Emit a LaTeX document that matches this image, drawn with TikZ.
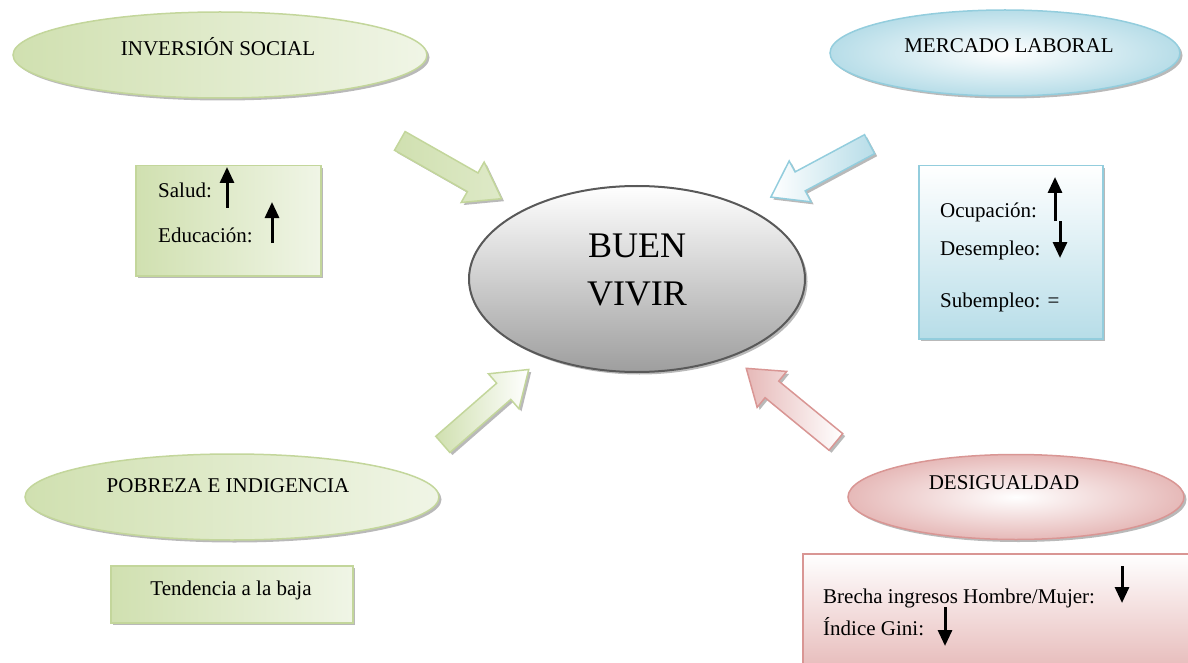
\documentclass[tikz,border=0pt]{standalone}
\usepackage{fontspec}
\setmainfont{Liberation Serif}
\usetikzlibrary{shapes.geometric,shapes.arrows,shadows,arrows.meta}
\definecolor{gfill}{HTML}{D0E0B0}
\definecolor{glight}{HTML}{F0F5E6}
\definecolor{gborder}{HTML}{C3D69B}
\definecolor{bfill}{HTML}{B7DDE8}
\definecolor{bborder}{HTML}{93CDDD}
\definecolor{pfill}{HTML}{E6B9B8}
\definecolor{pborder}{HTML}{D99694}
\definecolor{dgray}{HTML}{595959}
\begin{document}
\begin{tikzpicture}[x=1pt,y=-1pt,
  txt/.style={font=\fontsize{21}{25}\selectfont, inner sep=0pt},
  shad/.style={drop shadow={shadow xshift=2.5pt,shadow yshift=-2.5pt,fill=black!50,opacity=0.55}},
  gell/.style={ellipse, draw=gborder, line width=1.5pt, left color=gfill, right color=glight, shad, inner sep=0pt},
  bell/.style={ellipse, draw=bborder, line width=1.5pt, inner color=white, outer color=bfill, shad, inner sep=0pt},
  pell/.style={ellipse, draw=pborder, line width=1.5pt, inner color=white, outer color=pfill, shad, inner sep=0pt},
  gbox/.style={rectangle, draw=gborder, line width=1.5pt, left color=gfill, right color=glight, shad, inner sep=0pt, anchor=north west},
  bbox/.style={rectangle, draw=bborder, line width=1.5pt, top color=white, bottom color=bfill, shad, inner sep=0pt, anchor=north west},
  pbox/.style={rectangle, draw=pborder, line width=1.5pt, top color=white, bottom color=pfill, inner sep=0pt, anchor=north west},
  bigarrow/.style={single arrow, single arrow tip angle=70, single arrow head extend=12.5pt,
     inner xsep=0pt, inner ysep=10pt, line width=1.5pt, shad},
  smallarrow/.style={line width=3pt, -{Triangle[width=14pt,length=16pt]}}
]
\useasboundingbox (0,0) rectangle (1188,663);
\clip (0,0) rectangle (1188,663);

% big ellipses
\node[gell, minimum width=414pt, minimum height=86pt] (inv) at (220,55) {};
\node[txt] (invt) at (218,47) {INVERSIÓN SOCIAL};
\node[bell, minimum width=350pt, minimum height=86pt] (mer) at (1005,53) {};
\node[txt] (mert) at (1009,46) {MERCADO LABORAL};
\node[gell, minimum width=414pt, minimum height=86pt] (pob) at (232,497) {};
\node[txt] (pobt) at (228,486) {POBREZA E INDIGENCIA};
\node[pell, minimum width=336pt, minimum height=85pt] (des) at (1016,497) {};
\node[txt] (dest) at (1004,483) {DESIGUALDAD};

% central ellipse
\node[ellipse, draw=dgray, line width=2pt, top color=white, bottom color=black!38, shad,
      minimum width=336pt, minimum height=186pt, inner sep=0pt] (bv) at (637,279) {};
\node[font=\fontsize{36}{48}\selectfont, align=center, inner sep=0pt] (bvt) at (637,270) {BUEN\\VIVIR};

% block arrows
\node[bigarrow, minimum height=117pt, rotate=-29.6, draw=gborder, left color=gfill, right color=gfill!70!white] (a1) at (444,166) {};
\node[bigarrow, minimum height=112pt, rotate=208.2, draw=bborder, left color=white, right color=bfill] (a2) at (827,167) {};
\node[bigarrow, minimum height=114pt, rotate=41.1, draw=gborder, left color=gfill, right color=white] (a3) at (480,412) {};
\node[bigarrow, minimum height=116pt, rotate=140.6, draw=pborder, left color=pfill, right color=white] (a4) at (797,410) {};

% boxes
\node[gbox, minimum width=185pt, minimum height=110pt] (sal) at (135,165) {};
\node[txt, anchor=base west] (salt) at (158,197) {Salud:};
\node[txt, anchor=base west] (edut) at (158,242) {Educación:};
\coordinate (s1a) at (227,208); \coordinate (s1b) at (227,167);
\coordinate (s2a) at (272,243); \coordinate (s2b) at (272,202);
\draw[smallarrow] (s1a) -- (s1b);
\draw[smallarrow] (s2a) -- (s2b);

\node[bbox, minimum width=184pt, minimum height=173pt] (mbox) at (918,165) {};
\node[txt, anchor=base west] (ocut) at (940,217) {Ocupación:};
\node[txt, anchor=base west] (dest2) at (940,255) {Desempleo:};
\node[txt, anchor=base west] (subt) at (940,307) {Subempleo: =};
\coordinate (m1a) at (1055,221); \coordinate (m1b) at (1055,177);
\coordinate (m2a) at (1060,221); \coordinate (m2b) at (1060,258);
\draw[smallarrow] (m1a) -- (m1b);
\draw[smallarrow] (m2a) -- (m2b);

\node[gbox, minimum width=242pt, minimum height=57pt] (tbox) at (110,565) {};
\node[txt] (tt) at (231,590) {Tendencia a la baja};

\node[pbox, minimum width=400pt, minimum height=120pt] (dbox) at (802,553) {};
\node[txt, anchor=base west] (bt) at (823,603) {Brecha ingresos Hombre/Mujer:};
\node[txt, anchor=base west] (gt) at (823,635) {Índice Gini:};
\coordinate (d1a) at (1122,566); \coordinate (d1b) at (1122,603);
\coordinate (d2a) at (945,607); \coordinate (d2b) at (945,646);
\draw[smallarrow] (d1a) -- (d1b);
\draw[smallarrow] (d2a) -- (d2b);
\end{tikzpicture}
\end{document}
